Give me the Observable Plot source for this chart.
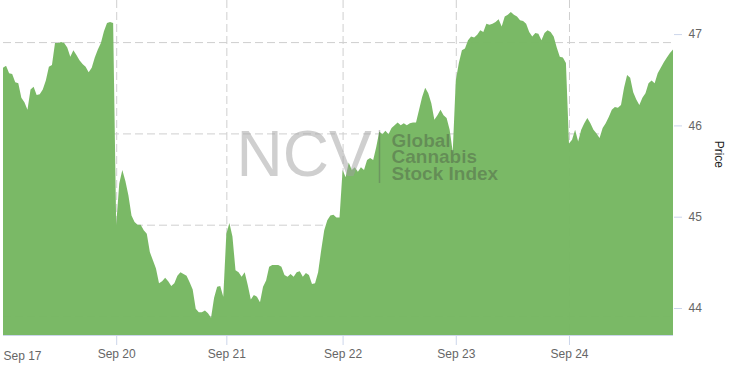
<!DOCTYPE html>
<html><head><meta charset="utf-8">
<script src="https://cdn.jsdelivr.net/npm/d3@7"></script>
<script src="https://cdn.jsdelivr.net/npm/@observablehq/plot@0.6"></script>
<style>html,body{margin:0;padding:0;background:#fff} svg{display:block}</style>
</head><body><div id="chart"></div>
<script>
// Trading-day labels (ordinal time axis: weekend skipped)
const dayLabels = ["Sep 17", "Sep 20", "Sep 21", "Sep 22", "Sep 23", "Sep 24"];
// Intraday price readings, in order, per trading day
const sep17 = [46.72, 46.74, 46.66, 46.65, 46.56, 46.55, 46.39, 46.34, 46.26, 46.48, 46.51, 46.42, 46.43, 46.48, 46.58, 46.73, 46.75, 46.99, 46.99, 47.00, 46.99, 46.94, 46.84, 46.91, 46.86, 46.80, 46.76, 46.73, 46.67, 46.72, 46.83, 46.92, 46.99, 47.12, 47.21, 47.22, 47.21];
const sep20 = [45.00, 45.45, 45.60, 45.48, 45.32, 45.10, 45.03, 45.00, 45.00, 44.94, 44.90, 44.70, 44.61, 44.52, 44.36, 44.38, 44.42, 44.38, 44.33, 44.36, 44.44, 44.48, 44.46, 44.44, 44.37, 44.29, 44.08, 44.04, 44.04, 44.06, 44.03, 43.98, 44.20, 44.32, 44.33, 44.21];
const sep21 = [44.90, 45.02, 44.87, 44.50, 44.48, 44.43, 44.48, 44.34, 44.18, 44.23, 44.21, 44.15, 44.32, 44.39, 44.54, 44.56, 44.56, 44.56, 44.54, 44.45, 44.43, 44.46, 44.43, 44.48, 44.49, 44.43, 44.47, 44.45, 44.35, 44.36, 44.48, 44.72, 44.94, 45.05, 45.10, 45.11, 45.08, 45.08];
const sep22 = [45.60, 45.52, 45.68, 45.60, 45.63, 45.58, 45.63, 45.60, 45.71, 45.73, 45.71, 45.85, 46.02, 45.99, 46.03, 45.99, 46.06, 46.09, 46.12, 46.09, 46.11, 46.09, 46.11, 46.12, 46.12, 46.26, 46.40, 46.50, 46.44, 46.33, 46.15, 46.20, 46.26, 46.20, 46.17, 46.04, 45.80];
const sep23 = [46.58, 46.77, 46.91, 46.93, 47.02, 47.06, 47.05, 47.08, 47.13, 47.11, 47.20, 47.19, 47.20, 47.22, 47.25, 47.17, 47.28, 47.30, 47.33, 47.30, 47.28, 47.24, 47.23, 47.20, 47.11, 47.06, 47.10, 47.09, 47.02, 47.10, 47.13, 47.11, 47.06, 46.94, 46.84, 46.83, 46.77];
const sep24 = [45.89, 45.93, 46.04, 45.91, 46.04, 46.11, 46.17, 46.11, 46.04, 46.00, 45.95, 46.06, 46.11, 46.18, 46.26, 46.29, 46.28, 46.31, 46.50, 46.64, 46.61, 46.45, 46.37, 46.31, 46.39, 46.44, 46.55, 46.58, 46.55, 46.66, 46.72, 46.78, 46.83, 46.88, 46.92];
const yTicks = [44, 45, 46, 47];
const yDomain = [43.792, 47.461];
const axisTitle = "Price";
const watermarkBig = "NCV";
const watermarkLines = ["Global", "Cannabis", "Stock Index"];

const days = [sep17, sep20, sep21, sep22, sep23, sep24];
const rows = [];
const dayStarts = [];
days.forEach(vals => {
  dayStarts.push(rows.length);
  vals.forEach(v => rows.push({i: rows.length, price: v}));
});
const n = rows.length;
const yMin = yDomain[0];
const font = "'Liberation Sans', Arial, Helvetica, sans-serif";
const green = "#77b863";
const grid = "#cfcfcf";
const axisCol = "#ccd6eb";

const separator = (index, scales, values, dims) =>
  d3.create("svg:line")
    .attr("x1", dims.marginLeft + 376.5).attr("x2", dims.marginLeft + 376.5)
    .attr("y1", dims.marginTop + 130).attr("y2", dims.marginTop + 183)
    .attr("stroke", "#555").attr("stroke-opacity", 0.35).attr("stroke-width", 1.5)
    .node();

const chart = Plot.plot({
  width: 730, height: 366,
  marginLeft: 3, marginRight: 57, marginTop: 0, marginBottom: 31,
  style: {fontFamily: font, fontSize: "12px", background: "#fff", overflow: "visible"},
  x: {type: "linear", domain: [0, n - 1], axis: null},
  y: {domain: yDomain, axis: null},
  marks: [
    Plot.ruleY(yTicks, {stroke: grid, strokeDasharray: "8,4"}),
    Plot.ruleX(dayStarts.slice(1), {stroke: grid, strokeDasharray: "8,4"}),
    Plot.areaY(rows, {x: "i", y1: yMin, y2: "price", fill: green, fillOpacity: 0.98, curve: "linear"}),
    Plot.ruleY([yMin], {stroke: axisCol}),
    Plot.axisX(dayStarts.slice(1), {
      anchor: "bottom", label: null, tickSize: 10, tickPadding: 4, stroke: axisCol, fill: "#666", fontSize: 12,
      tickFormat: i => dayLabels[dayStarts.indexOf(i)]
    }),
    Plot.text([dayLabels[0]], {
      x: () => dayStarts[0], frameAnchor: "bottom", textAnchor: "start", lineAnchor: "middle",
      dy: 21, fill: "#666", fontSize: 12
    }),
    Plot.axisY(yTicks, {
      anchor: "right", label: null, tickSize: 8, tickPadding: 7, stroke: axisCol, fill: "#666", fontSize: 12,
      textAnchor: "start", dy: -8, tickFormat: d => String(d)
    }),
    Plot.text([axisTitle], {
      frameAnchor: "right", rotate: 90, dx: 45, fill: "#222", fontSize: 12, text: d => d
    }),
    Plot.text([watermarkBig], {
      frameAnchor: "top-left", dx: 233, dy: 155, textAnchor: "start", lineAnchor: "middle",
      fontSize: 64, fill: "#a0a0a0", fillOpacity: 0.5, text: d => d
    }),
    separator,
    ...watermarkLines.map((t, k) => Plot.text([t], {
      frameAnchor: "top-left", dx: 388, dy: 146 + k * 16.5, textAnchor: "start", lineAnchor: "bottom",
      fontSize: 19, fontWeight: "bold", fill: "#3a3a3a", fillOpacity: 0.35, text: d => d
    }))
  ]
});
document.getElementById("chart").appendChild(chart);
</script>
</body></html>
